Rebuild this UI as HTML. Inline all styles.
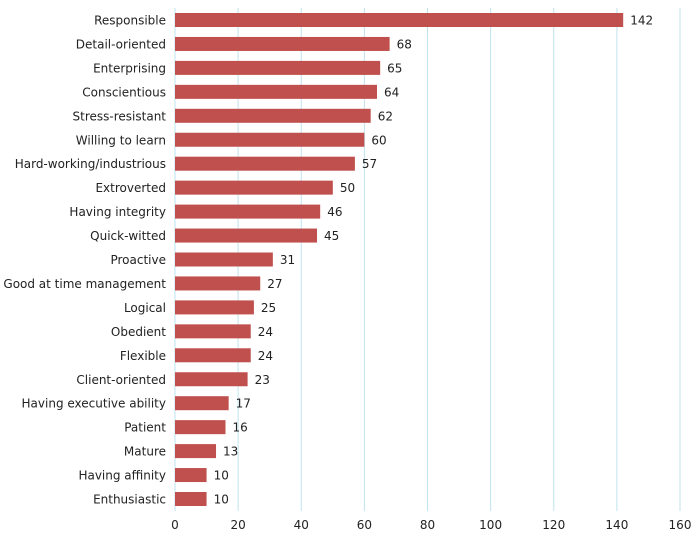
<!DOCTYPE html>
<html><head><meta charset="utf-8"><style>
body{margin:0;background:#fff;}
svg{display:block;font-family:"DejaVu Sans","Liberation Sans",sans-serif;font-size:12px;fill:#222;}
</style></head><body>
<svg id="chart" width="700" height="541"></svg>
<script>
const categories=["Responsible","Detail-oriented","Enterprising","Conscientious","Stress-resistant","Willing to learn","Hard-working/industrious","Extroverted","Having integrity","Quick-witted","Proactive","Good at time management","Logical","Obedient","Flexible","Client-oriented","Having executive ability","Patient","Mature","Having affinity","Enthusiastic"];
const values=[142,68,65,64,62,60,57,50,46,45,31,27,25,24,24,23,17,16,13,10,10];
const ticks=[0,20,40,60,80,100,120,140,160];
const NS="http://www.w3.org/2000/svg";
const svg=document.getElementById('chart');
const x0=175,x1=680,xmax=160;
const X=v=>x0+(x1-x0)*v/xmax;
const yTop=20,step=23.95;
const Y=i=>yTop+i*step;
function mk(t,a){const e=document.createElementNS(NS,t);for(const k in a)e.setAttribute(k,a[k]);svg.appendChild(e);return e;}
ticks.forEach(t=>{
 if(t>0){const g=mk('line',{x1:X(t),x2:X(t),y1:8,y2:511,stroke:'#bfe3ef','stroke-width':1});
 
 }
 const l=mk('text',{x:X(t),y:529,'text-anchor':'middle'});l.textContent=t;
 
 
});
const ax=mk('line',{x1:x0,x2:x0,y1:8,y2:511,stroke:'#bfe3ef'});


categories.forEach((c,i)=>{
 const y=Y(i);
 const r=mk('rect',{x:x0,y:y-7,width:X(values[i])-x0,height:14,fill:'#C0504D'});
 
 
 const t=mk('text',{x:166,y:y+4.5,'text-anchor':'end'});t.textContent=c;
 
 
 const v=mk('text',{x:X(values[i])+7,y:y+4.5});v.textContent=values[i];
 
 
});
</script>
</body></html>
